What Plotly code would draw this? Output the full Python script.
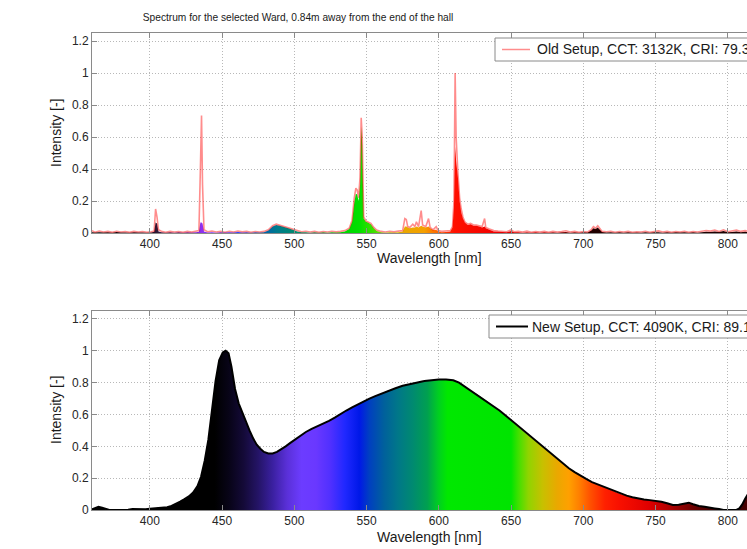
import plotly.graph_objects as go

# ---------------- data ----------------
# Old setup (fluorescent) : wavelength [nm], line intensity, filled-area intensity
wl_old = [360, 362, 365, 368, 371, 374, 377, 380, 383, 386, 389, 392, 395, 398, 401, 403,
          404, 405, 406, 408, 411, 414, 417, 420, 423, 426, 429, 432, 434,
          435, 435.8, 436.5, 437.5, 440, 443, 446, 449, 452, 455, 458, 461, 464, 467, 470,
          473, 476, 479, 482, 485, 487.5, 490, 493, 496, 499, 502, 505, 508, 511, 514, 517,
          520, 523, 526, 529, 532, 535, 538, 540, 541.5, 542.6, 543.5, 544.5, 545.5, 546.3,
          547, 548, 549.5, 551, 553, 555, 557, 560, 563, 566, 569, 572, 575, 576.5, 577.5,
          578.5, 580, 582, 583.5, 584.5, 586, 587.8, 588.8, 591, 592.9, 594, 596, 598.2,
          599.5, 602, 605, 608, 609.5, 610.5, 611.3, 612, 613.2, 614.4, 615.5, 616.7, 618,
          620, 622, 624, 626, 628, 630, 631.7, 632.5, 635, 638, 641, 644, 647, 650, 652, 655,
          658, 661, 664, 667, 670, 673, 676, 679, 682, 685, 688, 691, 694, 697, 700, 703,
          705.5, 707, 708.5, 710, 711.5, 713, 716, 719, 722, 725, 728, 731, 734, 737, 740,
          743, 746, 749, 752, 755, 758, 761, 764, 767, 770, 773, 776, 779, 782, 785, 788,
          791, 794, 797, 800, 803, 806, 809, 812, 815]
line_old = [0.015, 0.005, 0.012, 0.006, 0.010, 0.004, 0.011, 0.006, 0.009, 0.004, 0.010, 0.006,
            0.009, 0.005, 0.008, 0.012, 0.15, 0.10, 0.02, 0.011, 0.005, 0.010, 0.006, 0.009,
            0.005, 0.010, 0.006, 0.010, 0.015, 0.40, 0.735, 0.30, 0.02, 0.008, 0.012, 0.006,
            0.010, 0.005, 0.011, 0.006, 0.012, 0.007, 0.010, 0.005, 0.009, 0.006, 0.010, 0.020,
            0.045, 0.055, 0.048, 0.040, 0.032, 0.022, 0.012, 0.008, 0.011, 0.006, 0.010, 0.005,
            0.009, 0.006, 0.011, 0.007, 0.010, 0.015, 0.030, 0.08, 0.22, 0.28, 0.27, 0.22, 0.35,
            0.72, 0.60, 0.10, 0.075, 0.07, 0.06, 0.035, 0.018, 0.010, 0.006, 0.011, 0.007,
            0.012, 0.015, 0.09, 0.085, 0.04, 0.035, 0.055, 0.04, 0.07, 0.04, 0.14, 0.05, 0.04,
            0.09, 0.035, 0.02, 0.04, 0.015, 0.010, 0.012, 0.015, 0.04, 0.20, 1.0, 0.60, 0.38,
            0.22, 0.15, 0.10, 0.07, 0.055, 0.06, 0.05, 0.05, 0.045, 0.04, 0.09, 0.035, 0.025,
            0.015, 0.012, 0.010, 0.008, 0.02, 0.008, 0.010, 0.006, 0.012, 0.005, 0.009, 0.006,
            0.010, 0.005, 0.011, 0.006, 0.009, 0.014, 0.006, 0.010, 0.005, 0.009, 0.006, 0.02,
            0.04, 0.03, 0.045, 0.03, 0.01, 0.008, 0.011, 0.005, 0.009, 0.006, 0.010, 0.005,
            0.008, 0.006, 0.011, 0.005, 0.009, 0.013, 0.006, 0.010, 0.005, 0.009, 0.006, 0.011,
            0.005, 0.009, 0.006, 0.010, 0.016, 0.012, 0.018, 0.010, 0.020, 0.008, 0.012, 0.018,
            0.010, 0.015, 0.010]
fill_old = [0.005, 0.003, 0.004, 0.003, 0.005, 0.002, 0.006, 0.003, 0.003, 0.002, 0.004, 0.003,
            0.003, 0.002, 0.003, 0.008, 0.065, 0.06, 0.01, 0.004, 0.002, 0.004, 0.002, 0.004,
            0.002, 0.004, 0.003, 0.004, 0.008, 0.065, 0.065, 0.06, 0.01, 0.003, 0.004, 0.002,
            0.004, 0.003, 0.004, 0.003, 0.006, 0.003, 0.004, 0.002, 0.004, 0.003, 0.005, 0.015,
            0.040, 0.050, 0.045, 0.037, 0.030, 0.020, 0.010, 0.004, 0.004, 0.002, 0.004, 0.002,
            0.004, 0.002, 0.004, 0.003, 0.005, 0.010, 0.025, 0.07, 0.19, 0.245, 0.24, 0.20, 0.30,
            0.665, 0.55, 0.09, 0.07, 0.065, 0.055, 0.030, 0.012, 0.004, 0.002, 0.004, 0.003,
            0.005, 0.010, 0.04, 0.04, 0.035, 0.03, 0.035, 0.035, 0.04, 0.035, 0.045, 0.04, 0.035,
            0.04, 0.03, 0.018, 0.02, 0.01, 0.005, 0.006, 0.010, 0.035, 0.16, 0.54, 0.45, 0.35,
            0.20, 0.13, 0.09, 0.065, 0.05, 0.055, 0.045, 0.045, 0.04, 0.035, 0.04, 0.03, 0.02,
            0.01, 0.008, 0.006, 0.004, 0.012, 0.004, 0.004, 0.002, 0.005, 0.002, 0.004, 0.002,
            0.005, 0.002, 0.004, 0.002, 0.004, 0.006, 0.002, 0.004, 0.002, 0.004, 0.003, 0.015,
            0.03, 0.025, 0.035, 0.02, 0.006, 0.003, 0.004, 0.002, 0.004, 0.002, 0.004, 0.002,
            0.003, 0.002, 0.005, 0.002, 0.004, 0.005, 0.002, 0.004, 0.002, 0.004, 0.003, 0.005,
            0.002, 0.004, 0.002, 0.004, 0.008, 0.006, 0.010, 0.006, 0.012, 0.004, 0.006, 0.010,
            0.005, 0.008, 0.005]

# New setup (LED)
wl_new = [360, 362, 364.5, 367, 370, 372, 375, 380, 385, 388, 391, 394, 397, 400, 403, 406,
          409, 412, 415, 418, 421, 424, 427, 430, 433, 435.5, 438, 440.5, 443, 445.5, 448,
          450.5, 452.5, 454.5, 456.5, 459, 461.5, 464, 466.5, 469, 471.5, 474, 476.5, 479,
          482, 485, 488, 491, 494, 497, 500, 504, 508, 512, 516, 520, 524, 528, 532, 536,
          540, 544, 548, 552, 556, 560, 565, 570, 575, 580, 585, 590, 595, 600, 605, 610,
          614, 618, 622, 626, 630, 634, 638, 642, 646, 650, 654, 658, 662, 666, 670, 674,
          678, 682, 686, 690, 694, 698, 702, 706, 710, 714, 718, 722, 726, 730, 734, 738,
          742, 746, 750, 754, 758, 762, 766, 770, 773, 776, 780, 784, 788, 791, 794, 797,
          800, 803, 806, 808, 810, 812, 814]
int_new = [0.005, 0.012, 0.02, 0.015, 0.003, 0.0, 0.0, 0.0, 0.002, 0.006, 0.006, 0.003, 0.004,
           0.008, 0.010, 0.015, 0.014, 0.018, 0.026, 0.038, 0.052, 0.068, 0.085, 0.11, 0.15,
           0.21, 0.31, 0.44, 0.62, 0.81, 0.94, 0.99, 1.0, 0.985, 0.90, 0.76, 0.67, 0.61, 0.55,
           0.50, 0.45, 0.41, 0.385, 0.365, 0.355, 0.355, 0.365, 0.38, 0.40, 0.42, 0.44, 0.465,
           0.49, 0.51, 0.525, 0.545, 0.56, 0.58, 0.605, 0.625, 0.645, 0.665, 0.685, 0.70,
           0.715, 0.73, 0.75, 0.765, 0.78, 0.79, 0.80, 0.81, 0.815, 0.82, 0.82, 0.815, 0.80,
           0.775, 0.75, 0.73, 0.705, 0.68, 0.65, 0.625, 0.595, 0.565, 0.53, 0.50, 0.47, 0.44,
           0.41, 0.38, 0.35, 0.32, 0.29, 0.262, 0.238, 0.215, 0.195, 0.175, 0.16, 0.145, 0.13,
           0.115, 0.10, 0.09, 0.08, 0.072, 0.066, 0.062, 0.058, 0.052, 0.042, 0.032, 0.033,
           0.043, 0.046, 0.036, 0.025, 0.02, 0.012, 0.01, 0.006, 0.0, 0.0, 0.0, 0.0, 0.01,
           0.035, 0.07, 0.1]

# colour stops of the spectral fills (wavelength, colour)
old_color_wl = [360, 398, 405, 420, 436, 450, 465, 478, 488, 500, 515, 530, 545, 555, 565, 575,
                590, 600, 608, 611, 640, 670, 695, 705, 815]
old_colors = ["#000000", "#140014", "#301838", "#501070", "#9030f0", "#5030ff", "#2040ff",
              "#005fb0", "#007b8c", "#008a70", "#00a050", "#00d000", "#00e000", "#40e000",
              "#a0d000", "#e8a800", "#f5a000", "#ff6000", "#ff2000", "#ff1000", "#f00000",
              "#b00000", "#600000", "#200000", "#200000"]
new_color_wl = [360, 445, 455, 465, 475, 485, 495, 505, 515, 525, 535, 545, 552, 562, 572, 582,
                592, 600, 606, 650, 655, 662, 672, 682, 690, 697, 705, 715, 725, 745, 760, 775,
                790, 805, 815]
new_colors = ["#000000", "#000000", "#080418", "#140a38", "#241466", "#3a20a0", "#5a30d8",
              "#6c3cff", "#6a38ff", "#5030ff", "#2028ff", "#0018e8", "#0040c0", "#00609c",
              "#007888", "#008a70", "#00a050", "#00d020", "#00e800", "#00e400", "#40e000",
              "#90d400", "#c8c000", "#eaa800", "#ffa000", "#ff8000", "#ff5000", "#ff2000",
              "#f81000", "#e00000", "#b00000", "#700000", "#400000", "#300000", "#500000"]

x_ticks = [400, 450, 500, 550, 600, 650, 700, 750, 800]
y_ticks = [0, 0.2, 0.4, 0.6, 0.8, 1.0, 1.2]

title_text = "Spectrum for the selected Ward, 0.84m away from the end of the hall"
old_label = "Old Setup, CCT: 3132K, CRI: 79.3"
new_label = "New Setup, CCT: 4090K, CRI: 89.1"
old_line_color = "rgba(255,0,0,0.45)"
new_line_color = "black"

# ---------------- figure ----------------
W, H = 747, 549
ML = 92
PW = W - ML
FONT = "Liberation Sans, Arial, Helvetica, sans-serif"
WL_MIN, WL_MAX = 360.0, 815.0


def scale(wls, cols):
    return [[(w - WL_MIN) / (WL_MAX - WL_MIN), c] for w, c in zip(wls, cols)]


def px_x(px):
    return (px - ML) / PW


def py(px):
    return 1 - px / H


fig = go.Figure()

fig.add_trace(go.Scatter(
    x=wl_old, y=fill_old, mode="none", fill="tozeroy",
    fillgradient=dict(type="horizontal", colorscale=scale(old_color_wl, old_colors),
                      start=WL_MIN, stop=WL_MAX),
    showlegend=False, xaxis="x", yaxis="y"))
fig.add_trace(go.Scatter(
    x=wl_old, y=line_old, mode="lines", name=old_label,
    line=dict(color=old_line_color, width=1.6),
    showlegend=False, xaxis="x", yaxis="y"))

fig.add_trace(go.Scatter(
    x=wl_new, y=int_new, mode="none", fill="tozeroy",
    fillgradient=dict(type="horizontal", colorscale=scale(new_color_wl, new_colors),
                      start=WL_MIN, stop=WL_MAX),
    showlegend=False, xaxis="x2", yaxis="y2"))
fig.add_trace(go.Scatter(
    x=wl_new, y=int_new, mode="lines", name=new_label,
    line=dict(color=new_line_color, width=2),
    showlegend=False, xaxis="x2", yaxis="y2"))

x_range = [WL_MIN, WL_MIN + PW / 1.445]

axis_common = dict(
    showline=True, linecolor="#8a8a8a", linewidth=1,
    ticks="inside", ticklen=5, tickcolor="#8a8a8a",
    showgrid=True, gridcolor="#b8b8b8", gridwidth=1, griddash="1px,2px",
    zeroline=False, tickfont=dict(family=FONT, size=12, color="#262626"),
)

fig.update_layout(
    width=W, height=H,
    margin=dict(l=ML, r=0, t=0, b=0, autoexpand=False),
    paper_bgcolor="white", plot_bgcolor="white",
    showlegend=False,
    xaxis=dict(domain=[0, 1], range=x_range, tickvals=x_ticks, anchor="y",
               mirror="ticks", **axis_common),
    yaxis=dict(domain=[py(233), py(33)], range=[0, 1.25], tickvals=y_ticks, anchor="x",
               **axis_common),
    xaxis2=dict(domain=[0, 1], range=x_range, tickvals=x_ticks, anchor="y2",
                mirror="ticks", **axis_common),
    yaxis2=dict(domain=[py(510), py(311)], range=[0, 1.25], tickvals=y_ticks, anchor="x2",
                **axis_common),
    title=dict(text=title_text, xref="paper", x=px_x(298), xanchor="center",
               yref="container", y=py(17), yanchor="middle",
               font=dict(family=FONT, size=10.2, color="#1a1a1a")),
)

annots = [
    dict(text="Intensity [-]", x=px_x(56), y=py(133), textangle=-90, xanchor="center"),
    dict(text="Intensity [-]", x=px_x(56), y=py(410), textangle=-90, xanchor="center"),
    dict(text="Wavelength [nm]", x=px_x(430), y=py(258), textangle=0, xanchor="center"),
    dict(text="Wavelength [nm]", x=px_x(430), y=py(537), textangle=0, xanchor="center"),
    # legend texts
    dict(text=old_label, x=px_x(535), y=py(49.5), textangle=0, xanchor="left"),
    dict(text=new_label, x=px_x(530), y=py(326.5), textangle=0, xanchor="left"),
]

# legend boxes and samples (the reference is cropped at the right edge)
fig.add_shape(type="rect", xref="paper", yref="paper", x0=px_x(495), x1=px_x(900),
              y0=py(61), y1=py(38), fillcolor="white", line=dict(color="#8a8a8a", width=1),
              layer="above")
fig.add_shape(type="line", xref="paper", yref="paper", x0=px_x(502), x1=px_x(530),
              y0=py(49.5), y1=py(49.5), line=dict(color=old_line_color, width=1.5),
              layer="above")
fig.add_shape(type="rect", xref="paper", yref="paper", x0=px_x(489), x1=px_x(900),
              y0=py(338), y1=py(315), fillcolor="white", line=dict(color="#8a8a8a", width=1),
              layer="above")
fig.add_shape(type="line", xref="paper", yref="paper", x0=px_x(496), x1=px_x(528),
              y0=py(326.5), y1=py(326.5), line=dict(color=new_line_color, width=2),
              layer="above")

for a in annots:
    fig.add_annotation(xref="paper", yref="paper", yanchor="middle",
                       showarrow=False, font=dict(family=FONT, size=14, color="#1a1a1a"), **a)

fig.write_html("out.html", config={"displayModeBar": False},
               post_script="document.body.style.margin='0';document.body.style.overflow='hidden';")
